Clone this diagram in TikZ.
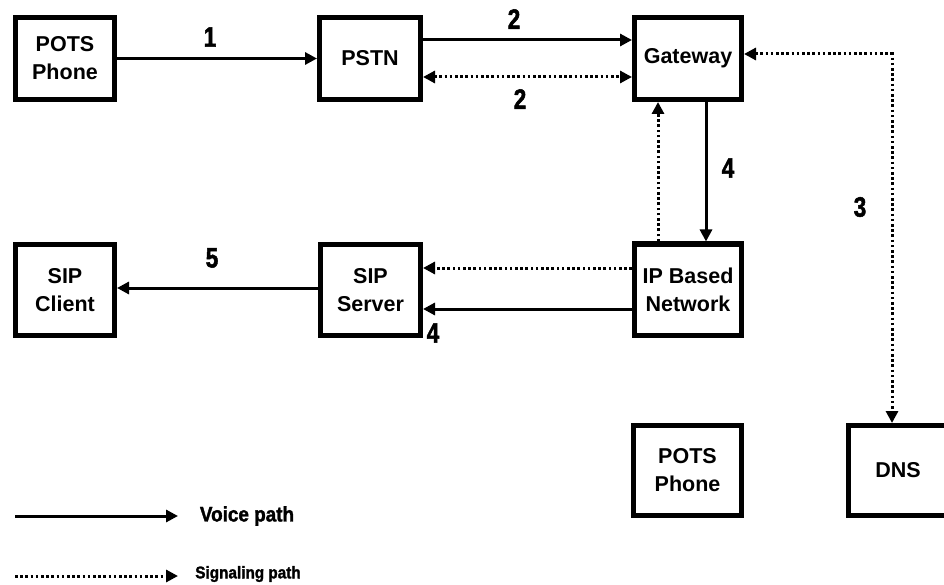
\documentclass[tikz,border=0pt]{standalone}
\usepackage{fontspec}
\setmainfont{Liberation Sans}
\newfontfamily\condfont{Liberation Sans}[FakeStretch=0.9, FakeBold=1.6]
\newfontfamily\digitfont{Liberation Sans}[FakeStretch=0.8, FakeBold=1.8]
\usetikzlibrary{arrows.meta}
\begin{document}
\begin{tikzpicture}[x=1pt,y=-1pt,
  box/.style={draw, line width=5pt, align=center, inner sep=0pt,
    font=\bfseries\fontsize{21.5}{28}\selectfont},
  toprow/.style={box, minimum height=82pt},
  midrow/.style={box, minimum height=91pt},
  botrow/.style={box, minimum height=90pt},
  tip/.style={-{Triangle[length=12pt,width=12pt]}},
  voice/.style={line width=3pt, tip},
  sig/.style={line width=3pt, dash pattern=on 2.6pt off 2.6pt, tip},
  num/.style={font=\digitfont\bfseries\fontsize{28}{28}\selectfont, inner sep=0pt},
  legend/.style={font=\condfont\bfseries\fontsize{#1}{#1}\selectfont, inner sep=0pt}
]
\useasboundingbox (0,0) rectangle (944,585);
% boxes
\node[toprow, minimum width=99pt]  (pots1) at (65,58.5)    {POTS\\Phone};
\node[toprow, minimum width=101pt] (pstn)  at (370,58.5)   {PSTN};
\node[toprow, minimum width=107pt] (gw)    at (688,58.5)   {Gateway};
\node[midrow, minimum width=99pt]  (sipc)  at (65,290)     {SIP\\Client};
\node[midrow, minimum width=100pt] (sips)  at (370.5,290)  {SIP\\Server};
\node[midrow, minimum width=107pt] (ip)    at (688,289.5)  {IP Based\\Network};
\node[botrow, minimum width=108pt] (pots2) at (687.5,470.5){POTS\\Phone};
\node[botrow, minimum width=99pt]  (dns)   at (898,470.5)  {DNS};
% connectors
\draw[voice] (pots1.east) -- (pstn.west);
\draw[voice] (pstn.east |- 0,40) -- (gw.west |- 0,40);
\draw[sig, {Triangle[length=12pt,width=12pt]}-{Triangle[length=12pt,width=12pt]}]
  (pstn.east |- 0,77) -- (gw.west |- 0,77);
\draw[voice] (gw.south -| 706,0) -- (ip.north -| 706,0);
\draw[sig] (ip.north -| 658,0) -- (gw.south -| 658,0);
\coordinate (corner) at (892,54);
\draw[sig, {Triangle[length=12pt,width=12pt]}-{Triangle[length=12pt,width=12pt]}]
  (gw.east |- corner) -- (corner) -- (dns.north -| corner);
\draw[sig] (ip.west |- 0,268) -- (sips.east |- 0,268);
\draw[voice] (ip.west |- 0,309) -- (sips.east |- 0,309);
\draw[voice] (sips.west |- 0,288) -- (sipc.east |- 0,288);
% labels
\node[num] (n1)  at (210,37)  {1};
\node[num] (n2a) at (514,19)  {2};
\node[num] (n2b) at (520,99)  {2};
\node[num] (n4a) at (728,168) {4};
\node[num] (n3)  at (860,207) {3};
\node[num] (n4b) at (433,333) {4};
\node[num] (n5)  at (212,258) {5};
% legend
\coordinate (lv1) at (15,516);
\coordinate (lv2) at (178,516);
\coordinate (ls1) at (15,576);
\coordinate (ls2) at (178,576);
\draw[voice] (lv1) -- (lv2);
\draw[sig] (ls1) -- (ls2);
\node[legend=21] (tv) at (247,516) {Voice path};
\node[legend=17] (ts) at (248,574) {Signaling path};
\end{tikzpicture}
\end{document}
